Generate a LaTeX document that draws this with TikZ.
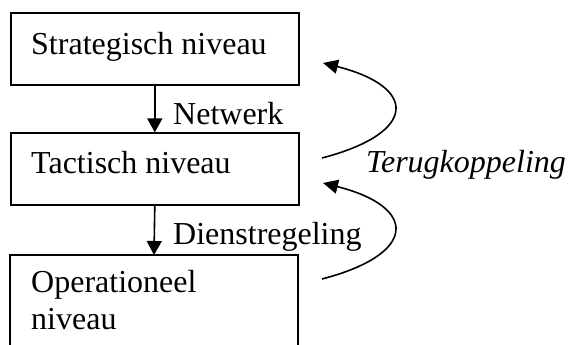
\documentclass[tikz,border=0pt]{standalone}
\usepackage{fontspec}
\setmainfont{Liberation Serif}
\usetikzlibrary{arrows.meta}
\begin{document}
\begin{tikzpicture}[x=1pt,y=1pt,
  lbl/.style={anchor=base west,inner sep=0pt,font=\fontsize{32}{38}\selectfont},
  boxline/.style={line width=1.6pt},
  flow/.style={line width=1.6pt,-{Triangle[length=14pt,width=15pt]}},
  fb/.style={line width=1.6pt,-{Triangle[length=15pt,width=14pt]}}]
\useasboundingbox (0,0) rectangle (568,345);
% boxes
\node[draw,boxline,minimum width=288pt,minimum height=72pt,inner sep=0pt,anchor=south west] (s) at (10,259) {};
\node[draw,boxline,minimum width=288pt,minimum height=72pt,inner sep=0pt,anchor=south west] (t) at (10,139) {};
\coordinate (o) at (154,90);
\draw[boxline] (10,-2) -- (10,90) -- (298,90) -- (298,-2);
% texts
\node[lbl] (st) at (31,290) {Strategisch niveau};
\node[lbl] (tt) at (31,171) {Tactisch niveau};
\node[lbl] (ot1) at (31,52) {Operationeel};
\node[lbl] (ot2) at (31,15) {niveau};
\node[lbl] (nw) at (173,220) {Netwerk};
\node[lbl] (ds) at (173,100) {Dienstregeling};
\node[lbl,font=\fontsize{32}{38}\selectfont\itshape] (tk) at (366,172) {Terugkoppeling};
% arrows
\draw[flow] (s.south) -- (t.north);
\draw[flow] (t.south) -- (o);
% feedback curves
\coordinate (a1) at (322,187);
\coordinate (b1) at (323,282);
\coordinate (a2) at (322,66);
\coordinate (b2) at (323,162);
\draw[fb] (a1) .. controls (418,212) and (418,258) .. (b1);
\draw[fb] (a2) .. controls (418,91) and (418,138) .. (b2);
\end{tikzpicture}
\end{document}
